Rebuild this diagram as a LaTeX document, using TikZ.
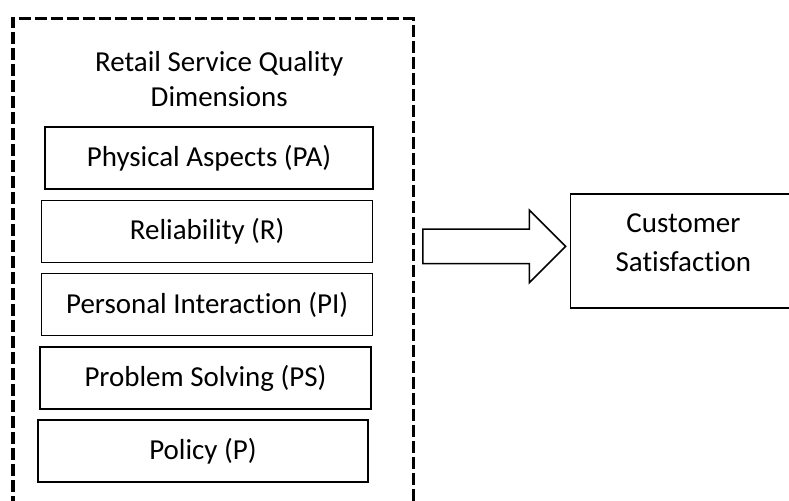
\documentclass[tikz,border=0pt]{standalone}
\usepackage{fontspec}
\setmainfont{Carlito}[Ligatures=NoCommon]
\usetikzlibrary{shapes.arrows}

\tikzset{
  dimframe/.style={line width=2.4pt, dash pattern=on 0.3cm off 0.1cm},
  dimbox/.style={draw, line width=0.9pt, minimum height=1.55cm, minimum width=8.25cm, inner sep=0pt},
  outbox/.style={draw, line width=0.9pt, minimum height=2.85cm, minimum width=5.63cm, inner sep=0pt},
  bigarrow/.style={draw, line width=1.1pt, single arrow, single arrow head extend=0.475cm,
    single arrow tip angle=90, minimum height=3.57cm, minimum width=1.775cm,
    inner xsep=0pt, inner ysep=0.4125cm}
}

\begin{document}
\begin{tikzpicture}[font=\fontsize{20.6}{25}\selectfont]

\useasboundingbox (0,0) rectangle (19.725,12.5);

% dimensions frame
\draw [dimframe] (0.325,-1) rectangle (10.33,12.04);
\node [align=center] (title) at (5.48,10.52) {Retail Service Quality\\Dimensions};

\node [dimbox, minimum width=8.2cm] (pa) at (5.225,8.55) {Physical Aspects (PA)};
\node [dimbox, minimum width=8.275cm] (r) at (5.18,6.716) {Reliability (R)};
\node [dimbox, minimum width=8.27cm] (pi) at (5.18,4.8875) {Personal Interaction (PI)};
\node [dimbox, minimum width=8.275cm] (ps) at (5.1375,3.05) {Problem Solving (PS)};
\node [dimbox] (p) at (5.075,1.225) {Policy (P)};

% outcome
\node [bigarrow] (arr) at (12.14,6.34) {};
\node [outbox] (cs) at (17.085,6.225) {};
\node [align=center, font=\fontsize{20.6}{27.2}\selectfont] (cstext) at ([yshift=0.21cm]cs.center) {Customer\\Satisfaction};

\end{tikzpicture}
\end{document}
